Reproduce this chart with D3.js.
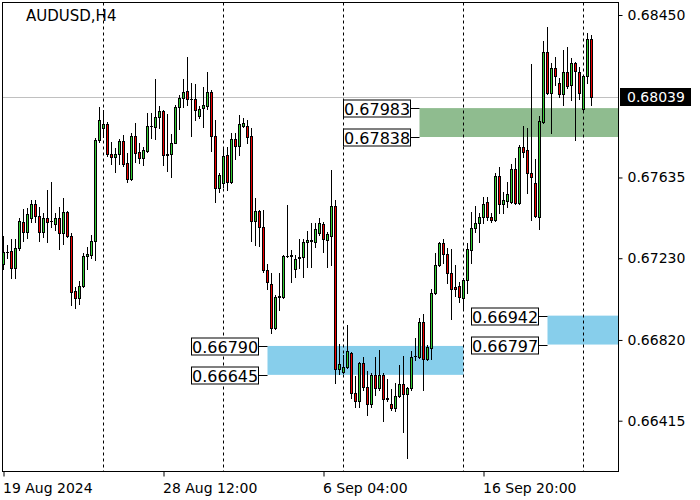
<!DOCTYPE html>
<html><head><meta charset="utf-8">
<script src="https://cdn.jsdelivr.net/npm/d3@7"></script>
<style>
html,body{margin:0;padding:0;background:#fff;}
svg{display:block;font-family:"DejaVu Sans",sans-serif;}
</style></head><body>
<svg id="c" width="700" height="500"></svg>
<script>
const symbol = "AUDUSD,H4";
const opens = [0.67199,0.67263,0.67266,0.67182,0.67279,0.67413,0.67363,0.67430,0.67500,0.67443,
0.67360,0.67430,0.67416,0.67400,0.67433,0.67355,0.67460,0.67343,0.67065,0.67029,
0.67092,0.67241,0.67246,0.67316,0.67821,0.67885,0.67901,0.67751,0.67739,0.67754,
0.67818,0.67706,0.67627,0.67841,0.67761,0.67731,0.67768,0.67895,0.67886,0.67940,
0.67966,0.67751,0.67751,0.67809,0.67991,0.68035,0.68070,0.68028,0.68028,0.67944,
0.67983,0.67995,0.68065,0.67844,0.67580,0.67605,0.67747,0.67613,0.67827,0.67792,
0.67894,0.67894,0.67842,0.67416,0.67466,0.67388,0.67170,0.67103,0.66878,0.67033,
0.67033,0.67242,0.67246,0.67174,0.67229,0.67234,0.67309,0.67319,0.67312,0.67354,
0.67404,0.67321,0.67342,0.67491,0.66672,0.66660,0.66682,0.66757,0.66552,0.66515,
0.66702,0.66582,0.66501,0.66644,0.66577,0.66644,0.66527,0.66501,0.66481,0.66538,
0.66597,0.66547,0.66577,0.66738,0.66736,0.66908,0.66722,0.66781,0.67058,0.67195,
0.67304,0.67249,0.67154,0.67088,0.67090,0.67029,0.67121,0.67271,0.67380,0.67405,
0.67435,0.67510,0.67435,0.67422,0.67642,0.67502,0.67518,0.67513,0.67677,0.67505,
0.67788,0.67773,0.67656,0.67605,0.67438,0.67915,0.68263,0.68057,0.68182,0.68107,
0.68052,0.68164,0.68099,0.68211,0.68166,0.67977,0.68144,0.68328];
const highs = [0.67341,0.67296,0.67325,0.67325,0.67430,0.67475,0.67480,0.67522,0.67522,0.67488,
0.67455,0.67572,0.67610,0.67455,0.67488,0.67530,0.67468,0.67355,0.67087,0.67116,
0.67254,0.67288,0.67346,0.67831,0.67990,0.67973,0.67915,0.67814,0.67781,0.67828,
0.67848,0.67756,0.67856,0.67906,0.67806,0.67789,0.67957,0.67957,0.68127,0.67993,
0.67973,0.67953,0.67851,0.68001,0.68048,0.68127,0.68237,0.68107,0.68102,0.67993,
0.68087,0.68162,0.68073,0.67923,0.67655,0.67789,0.67789,0.67856,0.67856,0.67948,
0.67931,0.67923,0.67881,0.67530,0.67471,0.67471,0.67200,0.67154,0.67045,0.67154,
0.67246,0.67496,0.67271,0.67246,0.67324,0.67326,0.67366,0.67408,0.67408,0.67434,
0.67413,0.67363,0.67672,0.67521,0.66799,0.66744,0.66894,0.66761,0.66639,0.66710,
0.66736,0.66665,0.66652,0.66736,0.66769,0.66652,0.66624,0.66572,0.66602,0.66694,
0.66741,0.66585,0.66764,0.66828,0.66928,0.66948,0.66794,0.67075,0.67254,0.67312,
0.67324,0.67279,0.67274,0.67196,0.67112,0.67129,0.67305,0.67463,0.67492,0.67455,
0.67539,0.67539,0.67455,0.67659,0.67686,0.67564,0.67614,0.67702,0.67731,0.67798,
0.67895,0.67881,0.68204,0.67726,0.67943,0.68319,0.68391,0.68211,0.68237,0.68132,
0.68274,0.68291,0.68232,0.68216,0.68191,0.68149,0.68361,0.68349];
const lows = [0.67174,0.67229,0.67132,0.67132,0.67271,0.67316,0.67333,0.67413,0.67413,0.67316,
0.67335,0.67310,0.67388,0.67371,0.67274,0.67299,0.67335,0.66995,0.66978,0.67000,
0.67084,0.67174,0.67229,0.67221,0.67814,0.67839,0.67744,0.67701,0.67664,0.67701,
0.67692,0.67614,0.67622,0.67714,0.67706,0.67697,0.67764,0.67831,0.67827,0.67881,
0.67697,0.67669,0.67639,0.67806,0.67876,0.67990,0.67998,0.67842,0.67923,0.67931,
0.67889,0.67981,0.67769,0.67513,0.67563,0.67588,0.67572,0.67608,0.67730,0.67747,
0.67889,0.67806,0.67316,0.67296,0.67292,0.67162,0.67075,0.66856,0.66873,0.66970,
0.67028,0.67237,0.67112,0.67134,0.67179,0.67134,0.67187,0.67187,0.67287,0.67346,
0.67262,0.67187,0.67195,0.66602,0.66647,0.66652,0.66677,0.66527,0.66485,0.66485,
0.66568,0.66443,0.66485,0.66543,0.66568,0.66415,0.66515,0.66468,0.66465,0.66532,
0.66359,0.66226,0.66568,0.66719,0.66732,0.66568,0.66719,0.66722,0.67053,0.67190,
0.67207,0.67107,0.66923,0.67040,0.67012,0.66970,0.67054,0.67204,0.67363,0.67313,
0.67405,0.67422,0.67413,0.67418,0.67455,0.67455,0.67485,0.67505,0.67502,0.67502,
0.67739,0.67559,0.67422,0.67438,0.67375,0.67910,0.68054,0.67860,0.68099,0.68040,
0.67998,0.68082,0.68023,0.67823,0.68027,0.67973,0.68107,0.67998];
const closes = [0.67259,0.67261,0.67182,0.67279,0.67417,0.67363,0.67450,0.67500,0.67443,0.67360,
0.67433,0.67413,0.67418,0.67433,0.67355,0.67460,0.67343,0.67062,0.67029,0.67092,
0.67243,0.67249,0.67316,0.67821,0.67921,0.67901,0.67754,0.67739,0.67754,0.67818,
0.67701,0.67627,0.67841,0.67759,0.67731,0.67771,0.67895,0.67893,0.67940,0.67966,
0.67749,0.67749,0.67809,0.67991,0.68035,0.68065,0.68028,0.68027,0.67973,0.67981,
0.68001,0.68065,0.67844,0.67580,0.67647,0.67744,0.67613,0.67827,0.67792,0.67903,
0.67906,0.67839,0.67416,0.67466,0.67388,0.67170,0.67112,0.66878,0.67037,0.67040,
0.67241,0.67243,0.67241,0.67226,0.67237,0.67311,0.67321,0.67318,0.67379,0.67409,
0.67324,0.67351,0.67491,0.66672,0.66697,0.66682,0.66764,0.66552,0.66515,0.66705,
0.66585,0.66501,0.66644,0.66577,0.66644,0.66522,0.66526,0.66481,0.66538,0.66598,
0.66547,0.66577,0.66736,0.66739,0.66908,0.66722,0.66786,0.67058,0.67195,0.67304,
0.67249,0.67154,0.67078,0.67078,0.67034,0.67121,0.67276,0.67380,0.67405,0.67435,
0.67502,0.67435,0.67422,0.67642,0.67502,0.67522,0.67552,0.67677,0.67505,0.67788,
0.67764,0.67656,0.67639,0.67443,0.67918,0.68263,0.68057,0.68182,0.68144,0.68052,
0.68164,0.68095,0.68207,0.68169,0.68057,0.68144,0.68328,0.68039];

const priceTicks = [0.68450, 0.67635, 0.67230, 0.66820, 0.66415];
const timeTickIdx = [0, 40, 80, 120];
const timeTickLabels = ["19 Aug 2024", "28 Aug 12:00", "6 Sep 04:00", "16 Sep 20:00"];
const separatorIdx = [25, 55, 85, 115, 145];
const currentPrice = 0.68039;
// zones: upper, lower, start candle index, end candle index
const zoneUpper = [0.67983, 0.66790, 0.66942];
const zoneLower = [0.67838, 0.66645, 0.66797];
const zoneStart = [104, 66, 136];
const zoneEnd   = [null, 115, null];
const zoneColor = ["#8fbc8f", "#87ceeb", "#87ceeb"];

const L = 2.5, R = 618.5, T = 2.5, B = 471.5;
const svg = d3.select("#c");
const n = opens.length;

const x = d3.scaleLinear().domain([0, n - 1]).range([3.5, 3.5 + 4 * (n - 1)]);
const y = d3.scaleLinear().domain([0.66415, 0.68450]).range([420.7, 15]);
const fmt = d3.format(".5f");

const plot = svg.append("g");
zoneUpper.forEach((u, k) => {
  const x0 = x(zoneStart[k]);
  const x1 = zoneEnd[k] == null ? R : x(zoneEnd[k]);
  plot.append("rect").attr("x", x0).attr("y", y(u)).attr("width", x1 - x0)
    .attr("height", y(zoneLower[k]) - y(u)).attr("fill", zoneColor[k]);
});
separatorIdx.forEach(i => {
  plot.append("line").attr("x1", x(i)).attr("x2", x(i)).attr("y1", T).attr("y2", B)
    .attr("stroke", "#000").attr("stroke-width", 1).attr("stroke-dasharray", "3,3");
});
plot.append("line").attr("x1", L).attr("x2", R)
  .attr("y1", Math.round(y(currentPrice)) + 0.5).attr("y2", Math.round(y(currentPrice)) + 0.5)
  .attr("stroke", "#c0c0c0").attr("stroke-width", 1);

const cg = plot.append("g");
for (let i = 0; i < n; i++) {
  const cx = x(i);
  const o = opens[i], c = closes[i], h = highs[i], l = lows[i];
  cg.append("line").attr("x1", cx).attr("x2", cx)
    .attr("y1", Math.round(y(h))).attr("y2", Math.round(y(l)) + 1)
    .attr("stroke", "#000").attr("stroke-width", 1);
  const top = Math.round(y(Math.max(o, c)));
  const bot = Math.round(y(Math.min(o, c)));
  const hgt = Math.max(1, bot - top + 1);
  cg.append("rect").attr("x", cx - 1.5).attr("y", top).attr("width", 3).attr("height", hgt).attr("fill", "#000");
  if (bot - top - 1 > 0) {
    cg.append("rect").attr("x", cx - 0.5).attr("y", top + 1).attr("width", 1).attr("height", bot - top - 1)
      .attr("fill", c > o ? "#32cd32" : (c < o ? "#ee0000" : "#000"));
  }
}

zoneUpper.forEach((u, k) => {
  const xs = x(zoneStart[k]);
  [u, zoneLower[k]].forEach(v => {
    const yy = Math.round(y(v)) + 0.5;
    const bx = Math.round(xs - 10 - 67) + 0.5;
    svg.append("line").attr("x1", bx + 67).attr("x2", xs).attr("y1", yy).attr("y2", yy)
      .attr("stroke", "#000").attr("stroke-width", 1);
    svg.append("rect").attr("x", bx).attr("y", yy - 8.5).attr("width", 67).attr("height", 17)
      .attr("fill", "#fff").attr("stroke", "#000").attr("stroke-width", 1);
    svg.append("text").attr("x", bx + 0.5).attr("y", yy + 6).attr("font-size", 16)
      .attr("fill", "#000").text(fmt(v));
  });
});

svg.append("rect").attr("x", L).attr("y", T).attr("width", R - L).attr("height", B - T)
  .attr("fill", "none").attr("stroke", "#000").attr("stroke-width", 1);

const ya = svg.append("g").attr("transform", `translate(${R},0)`)
  .call(d3.axisRight(y).tickValues(priceTicks).tickFormat(fmt).tickSize(4).tickPadding(5));
ya.select(".domain").remove();
ya.selectAll("text").attr("font-size", 14).attr("font-family", "DejaVu Sans").attr("fill", "#000");
ya.selectAll("line").attr("stroke", "#000");

const xa = svg.append("g").attr("transform", `translate(0,${B})`)
  .call(d3.axisBottom(x).tickValues(timeTickIdx).tickFormat((d, k) => timeTickLabels[k]).tickSize(5).tickPadding(7));
xa.select(".domain").remove();
xa.selectAll("text").attr("font-size", 14).attr("font-family", "DejaVu Sans").attr("fill", "#000")
  .attr("text-anchor", "start").attr("x", -1);
xa.selectAll("line").attr("stroke", "#000");

const cy = Math.round(y(currentPrice));
svg.append("rect").attr("x", 620).attr("y", cy - 9).attr("width", 71).attr("height", 18).attr("fill", "#000");
svg.append("text").attr("x", 627).attr("y", cy + 5).attr("font-size", 14).attr("fill", "#fff").text(fmt(currentPrice));

svg.append("text").attr("x", 26).attr("y", 21).attr("font-size", 15).attr("fill", "#000").text(symbol);
</script>
</body></html>
